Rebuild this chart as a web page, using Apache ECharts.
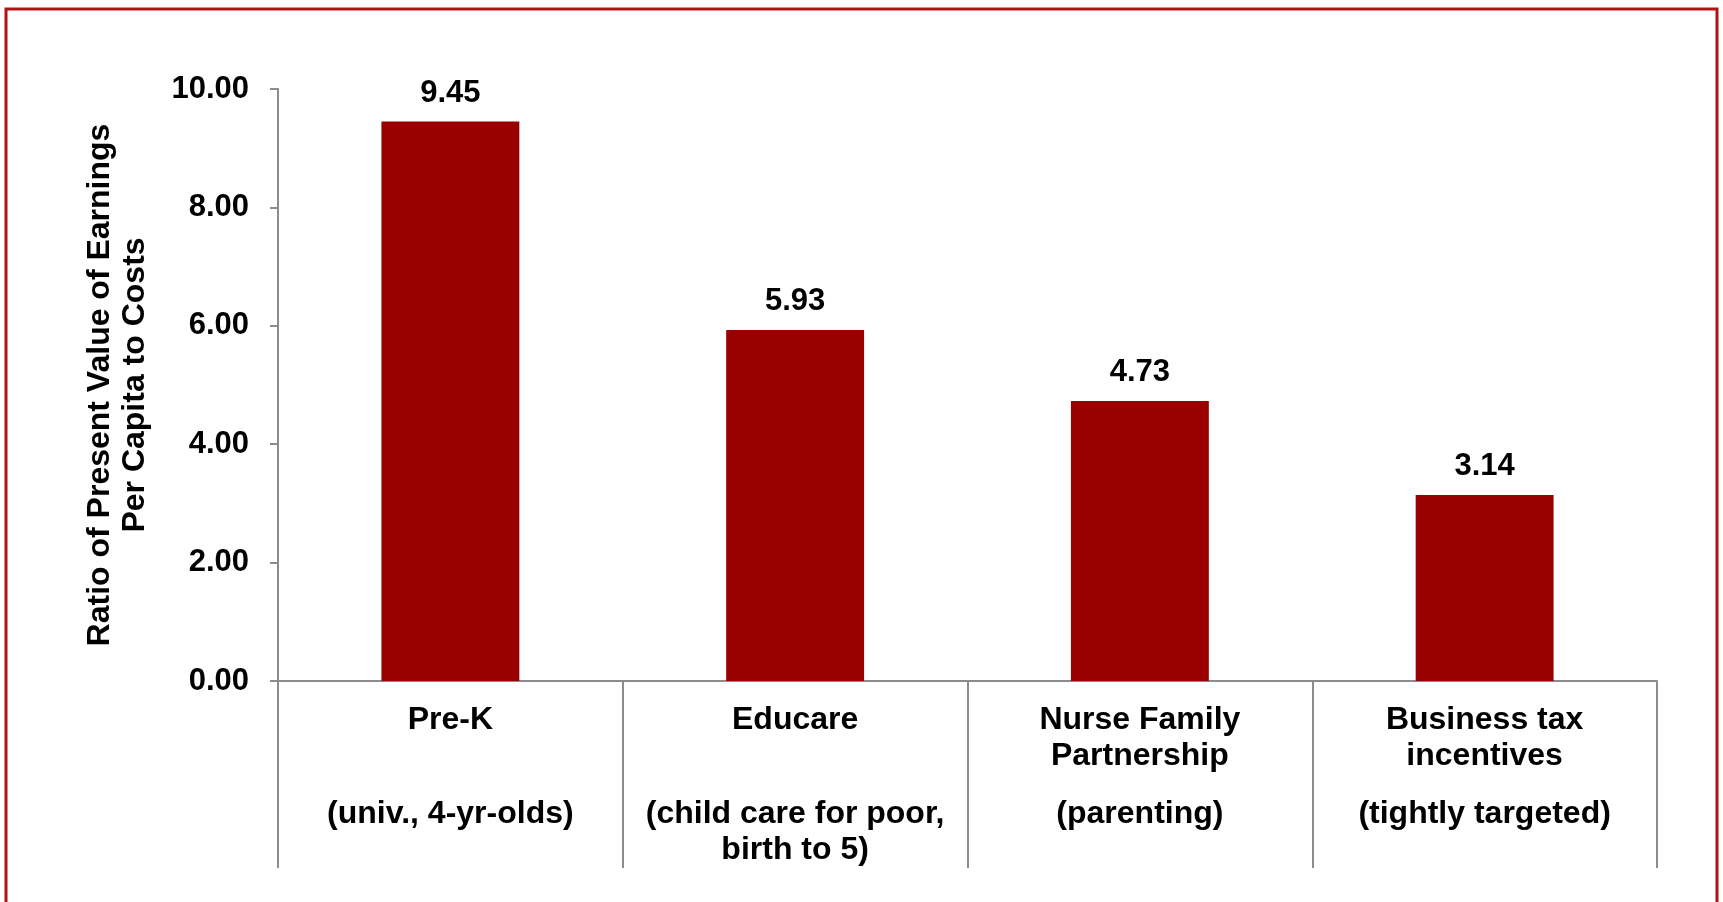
<!DOCTYPE html>
<html>
<head>
<meta charset="utf-8">
<title>Ratio of Present Value of Earnings</title>
<script src="https://cdn.jsdelivr.net/npm/echarts@6/dist/echarts.min.js"></script>
<style>
html, body { margin: 0; padding: 0; background: #fff; }
#chart { width: 1723px; height: 902px; }
</style>
</head>
<body>
<div id="chart"></div>
<script>
// 数据
var names = ['Pre-K', 'Educare', 'Nurse Family', 'Business tax'];
var names2 = ['', '', 'Partnership', 'incentives'];
var notes = ['(univ., 4-yr-olds)', '(child care for poor,', '(parenting)', '(tightly targeted)'];
var notes2 = ['', 'birth to 5)', '', ''];
var ratios = [9.45, 5.93, 4.73, 3.14];
var yTicks = [0, 2, 4, 6, 8, 10];

var font = '"Liberation Sans", Arial, sans-serif';

var myChart = echarts.init(document.getElementById('chart'));
var option = {
    animation: false,
    graphic: [{
        type: 'rect',
        shape: { x: 6, y: 9, width: 1711, height: 1000 },
        style: { fill: 'none', stroke: '#ad1414', lineWidth: 3 }
    }],
    grid: { left: 278, right: 66, top: 89, bottom: 221 },
    xAxis: {
        type: 'category',
        data: names,
        axisLine: { lineStyle: { color: '#8c8c8c', width: 2 } },
        axisTick: { show: true, inside: false, length: 187, lineStyle: { color: '#8c8c8c', width: 2 } },
        axisLabel: {
            interval: 0,
            margin: 21,
            verticalAlign: 'top',
            formatter: function (v, i) {
                return '{a|' + v + '}\n{a|' + (names2[i] || ' ') + '}\n{s| }\n{a|' + notes[i] + '}\n{a|' + (notes2[i] || ' ') + '}';
            },
            rich: {
                a: { fontFamily: font, fontSize: 32, fontWeight: 'bold', color: '#000', lineHeight: 36 },
                s: { fontSize: 10, lineHeight: 22 }
            }
        }
    },
    yAxis: {
        type: 'value',
        min: yTicks[0],
        max: yTicks[yTicks.length - 1],
        interval: 2,
        name: 'Ratio of Present Value of Earnings\nPer Capita to Costs',
        nameLocation: 'middle',
        nameGap: 125,
        nameTextStyle: { fontFamily: font, fontSize: 32, fontWeight: 'bold', color: '#000', lineHeight: 35 },
        splitLine: { show: false },
        axisLine: { show: true, lineStyle: { color: '#8c8c8c', width: 2 } },
        axisTick: { show: true, length: 8, lineStyle: { color: '#8c8c8c', width: 2 } },
        axisLabel: {
            margin: 29,
            fontFamily: font, fontSize: 31, fontWeight: 'bold', color: '#000',
            formatter: function (v) { return v.toFixed(2); }
        }
    },
    series: [{
        type: 'bar',
        data: ratios,
        barCategoryGap: '60%',
        itemStyle: { color: '#990000' },
        label: {
            show: true,
            position: 'top',
            distance: 13,
            fontFamily: font, fontSize: 31, fontWeight: 'bold', color: '#000',
            formatter: function (p) { return p.value.toFixed(2); }
        }
    }]
};
myChart.setOption(option);
</script>
</body>
</html>
